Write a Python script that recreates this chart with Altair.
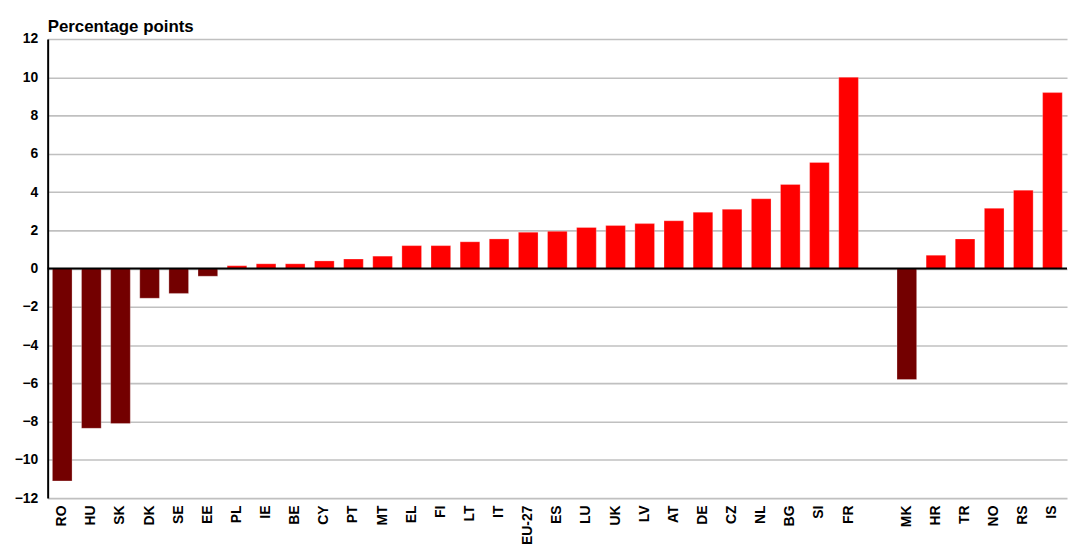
import altair as alt
import pandas as pd

categories = ["RO", "HU", "SK", "DK", "SE", "EE", "PL", "IE", "BE", "CY", "PT", "MT",
              "EL", "FI", "LT", "IT", "EU-27", "ES", "LU", "UK", "LV", "AT", "DE", "CZ",
              "NL", "BG", "SI", "FR", " ", "MK", "HR", "TR", "NO", "RS", "IS"]
values = [-11.1, -8.35, -8.1, -1.55, -1.3, -0.4, 0.15, 0.25, 0.25, 0.4, 0.5, 0.65,
          1.2, 1.2, 1.4, 1.55, 1.9, 1.95, 2.15, 2.25, 2.35, 2.5, 2.95, 3.1,
          3.65, 4.4, 5.55, 10.0, None, -5.8, 0.7, 1.55, 3.15, 4.1, 9.2]
y_ticks = [-12, -10, -8, -6, -4, -2, 0, 2, 4, 6, 8, 10, 12]

df = pd.DataFrame({"country": categories, "value": values})
bars_df = df.dropna()

FONT = "Liberation Sans"


def y_scale():
    return alt.Scale(domain=[-12, 12], nice=False, zero=False)


def y_axis():
    return alt.Axis(title=None, values=y_ticks, grid=True, gridColor="#c0c0c0",
                    gridWidth=1.6, domain=True, domainColor="#000000", domainWidth=2,
                    ticks=False, labelOverlap=False, labelPadding=10, labelFontSize=14,
                    labelFontWeight="bold", labelColor="#000000", labelFont=FONT)


x_enc = alt.X(
    "country:N",
    sort=categories,
    scale=alt.Scale(domain=categories, paddingInner=0.325, paddingOuter=0.1625),
    axis=alt.Axis(title=None, labelAngle=-90, domain=False, ticks=False, grid=False,
                  labelPadding=7, labelFontSize=14, labelFontWeight="bold",
                  labelColor="#000000", labelFont=FONT),
)

bars = alt.Chart(bars_df).mark_bar(stroke="#ffffff", strokeWidth=0.6, strokeOpacity=0.45).encode(
    x=x_enc,
    y=alt.Y("value:Q", scale=y_scale(), axis=y_axis()),
    color=alt.condition(alt.datum.value < 0, alt.value("#730000"), alt.value("#ff0000")),
)

zero = alt.Chart(pd.DataFrame({"value": [0]})).mark_rule(color="#000000", strokeWidth=2).encode(
    y=alt.Y("value:Q", scale=y_scale(), axis=y_axis())
)

chart = alt.layer(bars, zero).properties(
    width=1028,
    height=463,
    padding={"left": 6, "top": 8, "right": 0, "bottom": 0},
    title=alt.TitleParams("Percentage points", anchor="start", frame="group", fontSize=17,
                          fontWeight="bold", font=FONT, color="#000000", offset=-4),
).configure(font=FONT).configure_view(stroke=None)

chart.save("out.html", embed_options={"renderer": "svg", "actions": False})
